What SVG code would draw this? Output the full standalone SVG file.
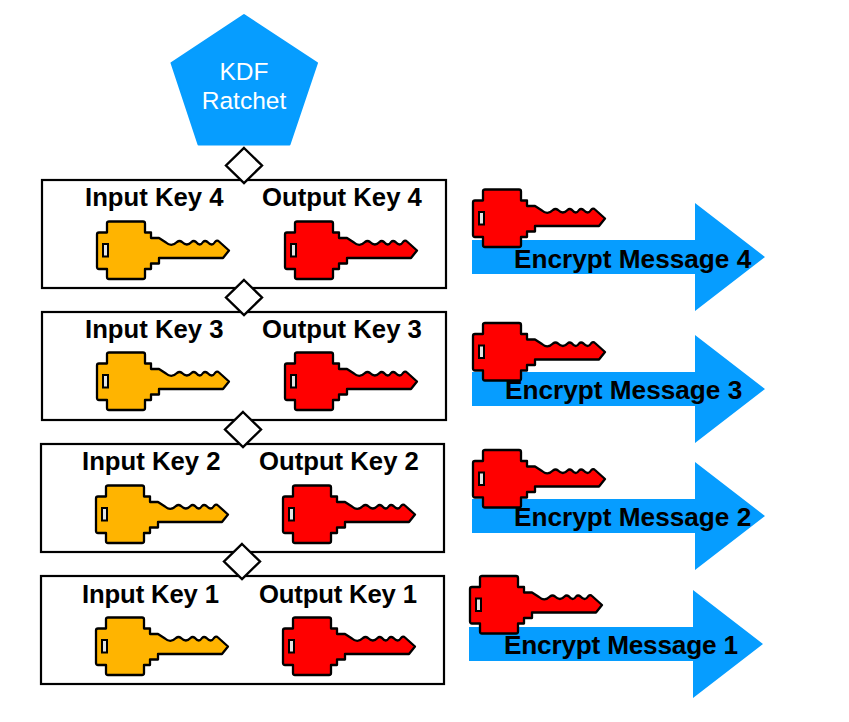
<svg xmlns="http://www.w3.org/2000/svg" xmlns:xlink="http://www.w3.org/1999/xlink" width="849" height="722" viewBox="0 0 849 722">
<style>
text{font-family:"Liberation Sans",Arial,sans-serif}
.b{fill:#fff;stroke:#000;stroke-width:2.2}
.d{fill:#fff;stroke:#000;stroke-width:2.4;stroke-linejoin:miter}
.l{font-size:25.7px;font-weight:700;fill:#000}
.m{font-size:26.2px;font-weight:700;fill:#000}
.a{fill:#069dff}
.y{fill:#ffb400}
.r{fill:#ff0000}
.w{font-size:24.500px;fill:#fff;text-anchor:middle}
</style>
<defs>
<g id="key">
<path stroke="#000" stroke-width="2.3" stroke-linejoin="round" d="M10 1.500Q10 0 12 0H46Q48 0 48 2V11H54V16.500H62L69 21Q74.500 26 80 20.500Q82.500 18.500 85 20.500Q90 25.500 94.500 20.500Q96.500 18.500 99 20.500Q103 25.500 106 20.500Q108 18.500 110.500 20.500Q115 25.500 118 20.500Q120 18 122 20L132 29L126 36.500H62V42H54V47.500H48V55.500Q48 57.500 46 57.500H12Q10 57.500 10 55.500V47.500H2Q0 47.500 0 45.500V13Q0 11 2 11H10Z"/>
<rect x="6" y="22.500" width="5" height="12.500" fill="#e4e4e4" stroke="#000" stroke-width="2"/>
</g>
</defs>
<g id="connectors"></g>
<g id="kdf">
<path class="a" stroke="#069dff" stroke-width="2" stroke-linejoin="round" d="M244 15L317 63L289.500 144.500H198.500L171.500 63Z"/>
<text class="w" x="244" y="80">KDF</text>
<text class="w" x="244" y="109">Ratchet</text>
</g>
<g id="row4">
<rect class="b" x="42" y="180" width="404" height="108"/>
<text class="l" x="85" y="205.500">Input Key 4</text>
<text class="l" x="262" y="205.500">Output Key 4</text>
<use xlink:href="#key" href="#key" class="y" x="97" y="221.500"/>
<use xlink:href="#key" href="#key" class="r" x="285" y="221.500"/>
</g>
<g id="row3">
<rect class="b" x="42" y="312" width="404" height="108"/>
<text class="l" x="85" y="337.500">Input Key 3</text>
<text class="l" x="262" y="337.500">Output Key 3</text>
<use xlink:href="#key" href="#key" class="y" x="97" y="352.500"/>
<use xlink:href="#key" href="#key" class="r" x="285" y="352.500"/>
</g>
<g id="row2">
<rect class="b" x="41" y="444" width="403" height="108"/>
<text class="l" x="82" y="469.500">Input Key 2</text>
<text class="l" x="259" y="469.500">Output Key 2</text>
<use xlink:href="#key" href="#key" class="y" x="96" y="485.500"/>
<use xlink:href="#key" href="#key" class="r" x="283" y="485.500"/>
</g>
<g id="row1">
<rect class="b" x="41" y="576" width="403" height="108"/>
<text class="l" x="82" y="602.500" textLength="137">Input Key 1</text>
<text class="l" x="259" y="602.500" textLength="158">Output Key 1</text>
<use xlink:href="#key" href="#key" class="y" x="96" y="617.500"/>
<use xlink:href="#key" href="#key" class="r" x="283" y="617.500"/>
</g>
<g id="diamonds">
<path class="d" d="M244 148L262 165.500L244 183L226 165.500Z"/>
<path class="d" d="M244 280L262 297.500L244 315L226 297.500Z"/>
<path class="d" d="M243 412L261 429.500L243 447L225 429.500Z"/>
<path class="d" d="M242 544L260 561.500L242 579L224 561.500Z"/>
</g>
<g id="msg4">
<path class="a" d="M472 240H695V203L765 257L695 311V274H472Z"/>
<use xlink:href="#key" href="#key" class="r" x="473" y="189.500"/>
<text class="m" x="514" y="267.500">Encrypt Message 4</text>
</g>
<g id="msg3">
<path class="a" d="M472 372H695V335L765 389L695 443V406H472Z"/>
<use xlink:href="#key" href="#key" class="r" x="473" y="323"/>
<text class="m" x="505" y="398.500">Encrypt Message 3</text>
</g>
<g id="msg2">
<path class="a" d="M472 499H695V462L765 516L695 570V533H472Z"/>
<use xlink:href="#key" href="#key" class="r" x="473" y="450"/>
<text class="m" x="514" y="525.500">Encrypt Message 2</text>
</g>
<g id="msg1">
<path class="a" d="M469 627H693V590L763 644L693 698V661H469Z"/>
<use xlink:href="#key" href="#key" class="r" x="470" y="576"/>
<text class="m" x="504" y="653.500" textLength="234">Encrypt Message 1</text>
</g>
</svg>
